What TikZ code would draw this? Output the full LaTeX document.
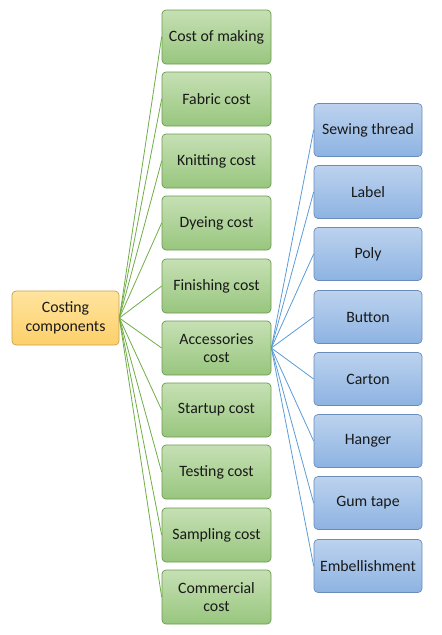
\documentclass[tikz,border=0pt]{standalone}
\usepackage{fontspec}
\setmainfont{Carlito}
\usepackage{xcolor}
\usetikzlibrary{positioning}
\definecolor{grnTop}{HTML}{C6E0B4}
\definecolor{grnBot}{HTML}{98C67E}
\definecolor{grnEdge}{HTML}{6A9A4E}
\definecolor{grnLine}{HTML}{70AD47}
\definecolor{bluTop}{HTML}{BCD2EE}
\definecolor{bluBot}{HTML}{8DB3E2}
\definecolor{bluEdge}{HTML}{6A8CBA}
\definecolor{bluLine}{HTML}{5B9BD5}
\definecolor{orgTop}{HTML}{FFE49E}
\definecolor{orgBot}{HTML}{FDD06A}
\definecolor{orgEdge}{HTML}{C9A04A}
\tikzset{
	blk/.style={draw, rounded corners=4pt, line width=0.7pt, align=center,
		font=\fontsize{15.8}{18.5}\selectfont, text=black!90, inner sep=1pt},
	root/.style={blk, top color=orgTop, bottom color=orgBot, draw=orgEdge,
		minimum width=107pt, minimum height=54pt},
	cost/.style={blk, top color=grnTop, bottom color=grnBot, draw=grnEdge,
		minimum width=109pt, minimum height=54pt},
	item/.style={blk, top color=bluTop, bottom color=bluBot, draw=bluEdge,
		minimum width=108pt, minimum height=53pt},
	glink/.style={draw=grnLine, line width=0.8pt},
	blink/.style={draw=bluLine, line width=0.8pt},
}
\begin{document}
\begin{tikzpicture}[x=1pt, y=-1pt]
	\useasboundingbox (0,0) rectangle (442,635);
	% root
	\node[root] at (65.5,318) (cc) {Costing\\components};
	% first level
	\node[cost] at (216.5,37) (making) {Cost of making};
	\node[cost] at (216.5,99) (fabric) {Fabric cost};
	\node[cost] at (216.5,161) (knit) {Knitting cost};
	\node[cost] at (216.5,223) (dye) {Dyeing cost};
	\node[cost] at (216.5,286) (finish) {Finishing cost};
	\node[cost] at (216.5,348) (acc) {Accessories\\cost};
	\node[cost] at (216.5,410) (start) {Startup cost};
	\node[cost] at (216.5,472) (test) {Testing cost};
	\node[cost] at (216.5,535) (sample) {Sampling cost};
	\node[cost] at (216.5,597) (comm) {Commercial\\cost};
	% accessories
	\node[item] at (368,130) (thread) {Sewing thread};
	\node[item] at (368,192) (label) {Label};
	\node[item] at (368,254) (poly) {Poly};
	\node[item] at (368,317) (button) {Button};
	\node[item] at (368,379) (carton) {Carton};
	\node[item] at (368,441) (hanger) {Hanger};
	\node[item] at (368,503) (gum) {Gum tape};
	\node[item] at (368,566) (emb) {Embellishment};
	% connectors
	\draw[glink] (cc.east) -- (making.west);
	\draw[glink] (cc.east) -- (fabric.west);
	\draw[glink] (cc.east) -- (knit.west);
	\draw[glink] (cc.east) -- (dye.west);
	\draw[glink] (cc.east) -- (finish.west);
	\draw[glink] (cc.east) -- (acc.west);
	\draw[glink] (cc.east) -- (start.west);
	\draw[glink] (cc.east) -- (test.west);
	\draw[glink] (cc.east) -- (sample.west);
	\draw[glink] (cc.east) -- (comm.west);
	\draw[blink] (acc.east) -- (thread.west);
	\draw[blink] (acc.east) -- (label.west);
	\draw[blink] (acc.east) -- (poly.west);
	\draw[blink] (acc.east) -- (button.west);
	\draw[blink] (acc.east) -- (carton.west);
	\draw[blink] (acc.east) -- (hanger.west);
	\draw[blink] (acc.east) -- (gum.west);
	\draw[blink] (acc.east) -- (emb.west);
\end{tikzpicture}
\end{document}
